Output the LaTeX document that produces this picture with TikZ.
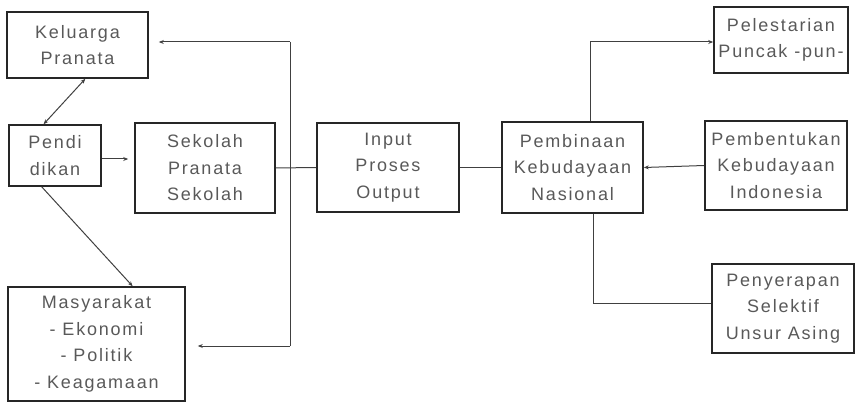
\documentclass[tikz,border=0pt]{standalone}
\usepackage{fontspec}
\setmainfont[LetterSpace=10]{Liberation Sans}
\usetikzlibrary{arrows.meta}

\begin{document}
\begin{tikzpicture}[x=1pt, y=-1pt,
    box/.style={draw=black!85, line width=1.6pt, align=center, inner sep=0pt,
      text=black!65, font=\fontsize{18}{26.5}\selectfont},
    link/.style={draw=black!75, line width=1pt},
    >={Stealth[length=5pt, width=4pt]}]
  \useasboundingbox (0,0) rectangle (858,403);

  % left column
  \node[box, minimum width=141, minimum height=66] (kel) at (77.5,45) {Keluarga\\Pranata};
  \node[box, minimum width=92, minimum height=61] (pend) at (55,155.5) {Pendi\\dikan};
  \node[box, minimum width=140, minimum height=90] (sek) at (205,168) {Sekolah\\Pranata\\Sekolah};
  \node[box, minimum width=177, minimum height=114] (mas) at (96.5,344) {Masyarakat\\- Ekonomi\\- Politik\\- Keagamaan};

  % middle
  \node[box, minimum width=142, minimum height=89] (inp) at (388,167.5) {Input\\Proses\\Output};
  \node[box, minimum width=141, minimum height=91] (pemb) at (572.5,167.5) {Pembinaan\\Kebudayaan\\Nasional};

  % right column
  \node[box, minimum width=134, minimum height=66] (pel) at (781,40) {Pelestarian\\Puncak -pun-};
  \node[box, minimum width=142, minimum height=89] (bent) at (776,165.5) {Pembentukan\\Kebudayaan\\Indonesia};
  \node[box, minimum width=142, minimum height=89] (serap) at (783,308.5) {Penyerapan\\Selektif\\Unsur Asing};

  % feedback bus
  \coordinate (bustop) at (290,42);
  \coordinate (busbot) at (290,346);
  \draw[link] (bustop) -- (busbot);
  \draw[link, ->, shorten >=10pt] (bustop) -- (kel.east |- bustop);
  \draw[link, ->, shorten >=12pt] (busbot) -- (mas.east |- busbot);

  % left links
  \draw[link, <->] (kel.-77) -- (pend.110);
  \draw[link, ->] (pend.-113) -- (mas.58);
  \draw[link, ->, shorten >=6pt] (pend.east) ++(0,3.5) -- (sek.west |- 0,159);
  \draw[link] (sek.east) -- (inp.west);
  \draw[link] (inp.east) -- (pemb.west);

  % right links
  \coordinate (up) at (590,42);
  \coordinate (down) at (593,303);
  \draw[link, ->] (pemb.north -| up) -- (up) -- (pel.west |- up);
  \draw[link, <-] (pemb.east) -- (bent.west);
  \draw[link] (pemb.south -| down) -- (down) -- (serap.west |- down);
\end{tikzpicture}
\end{document}
